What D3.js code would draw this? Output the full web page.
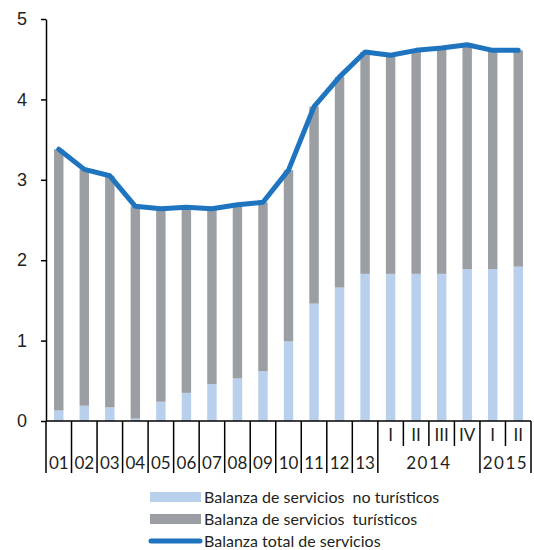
<!DOCTYPE html>
<html>
<head>
<meta charset="utf-8">
<script src="https://cdn.jsdelivr.net/npm/d3@7"></script>
<style>
  body { margin: 0; background: #fff; }
  svg { font-family: Lato, "Open Sans", sans-serif; }
  text { fill: #231f20; }
</style>
</head>
<body>
<svg id="chart" width="534" height="550"></svg>
<script>
// periods: 2001-2013 yearly, then quarters of 2014 and 2015
var categories = ['01','02','03','04','05','06','07','08','09','10','11','12','13',
                  'I','II','III','IV','I','II'];
var yearGroups = [
  {label: '2014', start: 13, end: 17},
  {label: '2015', start: 17, end: 19}
];
var noTuristicos = [0.13,0.19,0.17,0.03,0.24,0.35,0.46,0.53,0.62,0.99,1.46,1.66,
                    1.83,1.83,1.83,1.83,1.89,1.89,1.92];
var turisticos   = [3.25,2.94,2.88,2.64,2.40,2.31,2.18,2.16,2.10,2.13,2.45,2.62,
                    2.76,2.72,2.78,2.81,2.79,2.72,2.69];
var total        = [3.38,3.13,3.05,2.67,2.64,2.66,2.64,2.69,2.72,3.12,3.91,4.28,
                    4.59,4.55,4.61,4.64,4.68,4.61,4.61];
var yTicks = [0, 1, 2, 3, 4, 5];
var legendLabels = ['Balanza de servicios  no turísticos',
                    'Balanza de servicios  turísticos',
                    'Balanza total de servicios'];

var colNo = '#b8d0eb', colTur = '#9b9ea3', colTot = '#1f74bf';

var svg = d3.select('#chart');
var x = d3.scaleBand().domain(d3.range(categories.length)).range([46, 531]);
var y = d3.scaleLinear().domain([0, 5]).range([421, 19]);
var bw = x.bandwidth() * 0.37;

var rows = categories.map(function(c, i) {
  return {i: i, no: noTuristicos[i], tur: turisticos[i]};
});
var stacked = d3.stack().keys(['no', 'tur'])(rows);
var colours = [colNo, colTur];

svg.append('g').selectAll('g')
  .data(stacked).enter().append('g')
  .attr('fill', function(d, k) { return colours[k]; })
  .selectAll('rect')
  .data(function(d) { return d; }).enter().append('rect')
  .attr('x', function(d) { return x(d.data.i) + (x.bandwidth() - bw) / 2; })
  .attr('width', bw)
  .attr('y', function(d) { return y(d[1]); })
  .attr('height', function(d) { return y(d[0]) - y(d[1]); });

// total line
var line = d3.line()
  .x(function(d, i) { return x(i) + x.bandwidth() / 2; })
  .y(function(d) { return y(d); });
svg.append('path').datum(total)
  .attr('d', line).attr('fill', 'none')
  .attr('stroke', colTot).attr('stroke-width', 5)
  .attr('stroke-linejoin', 'round').attr('stroke-linecap', 'round');

// y axis
var yAxis = svg.append('g').attr('transform', 'translate(46,0)')
  .call(d3.axisLeft(y).tickValues(yTicks).tickFormat(d3.format('d'))
    .tickSize(5).tickSizeOuter(0).tickPadding(14));
yAxis.select('.domain').attr('stroke', '#000').attr('stroke-width', 1.5);
yAxis.selectAll('.tick line').attr('stroke', '#000').attr('stroke-width', 1.5);
yAxis.selectAll('.tick text').style('font-size', '18px').attr('fill', '#231f20');

// x axis: baseline plus separators
var xg = svg.append('g');
xg.append('line').attr('x1', 46).attr('x2', 531)
  .attr('y1', y(0)).attr('y2', y(0))
  .attr('stroke', '#000').attr('stroke-width', 1.5);

var isLong = function(k) {
  // separator at boundary k (between band k-1 and k)
  if (k <= 13) return true;
  return yearGroups.some(function(g) { return g.start === k || g.end === k; });
};
var bounds = d3.range(categories.length + 1);
xg.selectAll('line.sep').data(bounds).enter().append('line')
  .attr('class', 'sep')
  .attr('x1', function(k) { return k < categories.length ? x(k) : x.range()[1]; })
  .attr('x2', function(k) { return k < categories.length ? x(k) : x.range()[1]; })
  .attr('y1', y(0))
  .attr('y2', function(k) { return isLong(k) ? 473 : 446; })
  .attr('stroke', '#000').attr('stroke-width', 1.5);

xg.selectAll('text.cat').data(categories).enter().append('text')
  .attr('class', 'cat')
  .attr('x', function(d, i) { return x(i) + x.bandwidth() / 2; })
  .attr('y', function(d, i) { return i < 13 ? 469 : 441; })
  .attr('text-anchor', 'middle').style('font-size', '17px')
  .text(function(d) { return d; });

xg.selectAll('text.year').data(yearGroups).enter().append('text')
  .attr('class', 'year')
  .attr('x', function(g) {
    var end = g.end < categories.length ? x(g.end) : x.range()[1];
    return (x(g.start) + end) / 2;
  })
  .attr('y', 469).attr('text-anchor', 'middle').style('font-size', '17px')
  .style('letter-spacing', '1.5px')
  .text(function(g) { return g.label; });

// legend
var lg = svg.append('g').attr('transform', 'translate(150,497)');
var items = lg.selectAll('g').data(legendLabels).enter().append('g')
  .attr('transform', function(d, i) { return 'translate(0,' + (i * 22) + ')'; });
items.each(function(d, i) {
  var g = d3.select(this);
  if (i < 2) {
    g.append('rect').attr('x', 0).attr('y', -5).attr('width', 51).attr('height', 10)
      .attr('fill', colours[i]);
  } else {
    g.append('line').attr('x1', 1).attr('x2', 50).attr('y1', 0).attr('y2', 0)
      .attr('stroke', colTot).attr('stroke-width', 5).attr('stroke-linecap', 'round');
  }
  g.append('text').attr('x', 54).attr('dy', '0.35em')
    .style('font-size', '16px').style('white-space', 'pre')
    .text(d);
});
</script>
</body>
</html>
